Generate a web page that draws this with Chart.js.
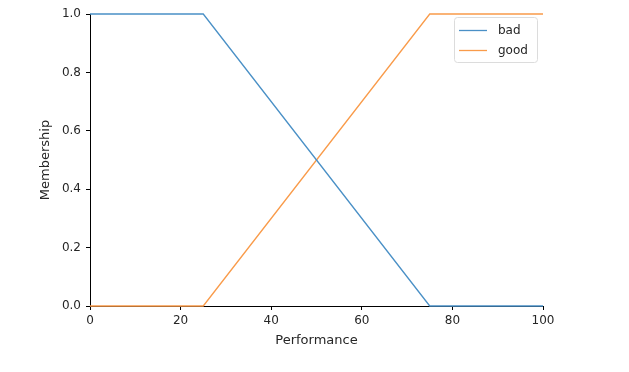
<!DOCTYPE html>
<html>
<head>
<meta charset="utf-8">
<script src="https://cdn.jsdelivr.net/npm/chart.js@4"></script>
<style>
  html, body { margin: 0; padding: 0; background: #fff; }
  canvas { display: block; }
</style>
</head>
<body>
<canvas id="c" width="629" height="372"></canvas>
<script>
// Data (breakpoints of the membership functions)
const xValues = [0, 25, 75, 100];
const badValues = [1, 1, 0, 0];
const goodValues = [0, 0, 1, 1];
const seriesNames = ['bad', 'good'];
const xTicks = [0, 20, 40, 60, 80, 100];
const yTicks = [0.0, 0.2, 0.4, 0.6, 0.8, 1.0];
const xTitle = 'Performance';
const yTitle = 'Membership';

const FONT = 'DejaVu Sans';
const TXT = '#262626';
const BLUE = '#4a90c6';
const ORANGE = '#f99b4a';

const toPts = (xs, ys) => xs.map((x, i) => ({ x: x, y: ys[i] }));

const legendPlugin = {
  id: 'insideLegend',
  afterDatasetsDraw(chart) {
    const ctx = chart.ctx;
    const x0 = 454, y0 = 17, w = 83, h = 45;
    ctx.save();
    ctx.fillStyle = 'rgba(255,255,255,0.85)';
    ctx.strokeStyle = '#dcdcdc';
    ctx.lineWidth = 1;
    const r = 3;
    ctx.beginPath();
    ctx.moveTo(x0 + r + 0.5, y0 + 0.5);
    ctx.arcTo(x0 + w + 0.5, y0 + 0.5, x0 + w + 0.5, y0 + h + 0.5, r);
    ctx.arcTo(x0 + w + 0.5, y0 + h + 0.5, x0 + 0.5, y0 + h + 0.5, r);
    ctx.arcTo(x0 + 0.5, y0 + h + 0.5, x0 + 0.5, y0 + 0.5, r);
    ctx.arcTo(x0 + 0.5, y0 + 0.5, x0 + w + 0.5, y0 + 0.5, r);
    ctx.closePath();
    ctx.fill();
    ctx.stroke();
    chart.data.datasets.forEach((ds, i) => {
      const y = y0 + 13.5 + i * 20;
      ctx.strokeStyle = ds.borderColor;
      ctx.lineWidth = 1.3;
      ctx.beginPath();
      ctx.moveTo(x0 + 5, y);
      ctx.lineTo(x0 + 33, y);
      ctx.stroke();
      ctx.fillStyle = TXT;
      ctx.font = '12px ' + FONT;
      ctx.textBaseline = 'middle';
      ctx.textAlign = 'left';
      ctx.fillText(ds.label, x0 + 44, y);
    });
    ctx.restore();
  }
};

new Chart(document.getElementById('c'), {
  type: 'line',
  data: {
    datasets: [
      { label: seriesNames[0], data: toPts(xValues, badValues), borderColor: BLUE, backgroundColor: BLUE, borderWidth: 1.3, pointRadius: 0, tension: 0, clip: 4 },
      { label: seriesNames[1], data: toPts(xValues, goodValues), borderColor: ORANGE, backgroundColor: ORANGE, borderWidth: 1.3, pointRadius: 0, tension: 0, clip: 4 }
    ]
  },
  options: {
    responsive: false,
    animation: false,
    layout: { padding: { top: 14, right: 86, left: 0, bottom: 0 } },
    plugins: { legend: { display: false }, tooltip: { enabled: false } },
    scales: {
      x: {
        type: 'linear',
        min: 0, max: 100,
        afterFit(s) { s.height = 66; },
        afterBuildTicks(s) { s.ticks = xTicks.map(v => ({ value: v })); },
        ticks: { color: TXT, font: { family: FONT, size: 12 }, padding: 4, maxRotation: 0, callback: v => String(v) },
        grid: { display: true, drawOnChartArea: false, drawTicks: true, tickLength: 4, color: '#000', lineWidth: 1 },
        border: { display: true, color: '#000', width: 1 },
        title: { display: true, text: xTitle, color: TXT, font: { family: FONT, size: 13 }, padding: { top: 4, bottom: 24 } }
      },
      y: {
        type: 'linear',
        min: 0, max: 1,
        afterFit(s) { s.width = 90; },
        afterBuildTicks(s) { s.ticks = yTicks.map(v => ({ value: v })); },
        ticks: { color: TXT, font: { family: FONT, size: 12 }, padding: 5, callback: v => Number(v).toFixed(1) },
        grid: { display: true, drawOnChartArea: false, drawTicks: true, tickLength: 4, color: '#000', lineWidth: 1 },
        border: { display: true, color: '#000', width: 1 },
        title: { display: true, text: yTitle, color: TXT, font: { family: FONT, size: 13 }, padding: { top: 38, bottom: 0 } }
      }
    }
  },
  plugins: [legendPlugin]
});
</script>
</body>
</html>
